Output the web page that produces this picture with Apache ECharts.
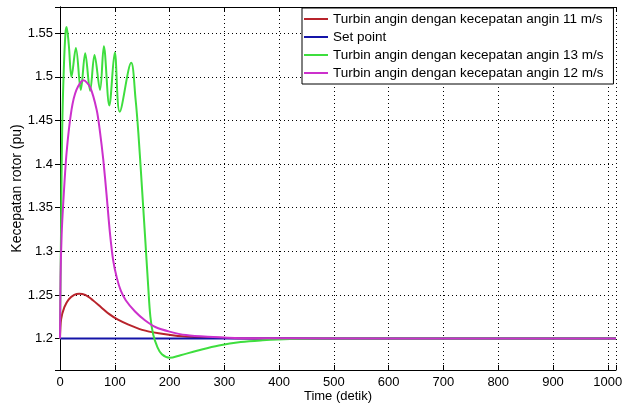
<!DOCTYPE html>
<html lang="en">
<head>
    <meta charset="UTF-8">
    <title>Kecepatan rotor</title>
    <script src="https://cdn.jsdelivr.net/npm/echarts@6/dist/echarts.min.js"></script>
    <style>
        html, body { margin: 0; padding: 0; background: #fff; }
        #main { width: 623px; height: 408px; }
    </style>
</head>
<body>
<div id="main"></div>
<script>
    // data (time in detik, speed in pu)
    var names = [
        'Turbin angin dengan kecepatan angin 11 m/s',
        'Set point',
        'Turbin angin dengan kecepatan angin 13 m/s',
        'Turbin angin dengan kecepatan angin 12 m/s'
    ];
    var colors = ['#b8232b', '#1414a8', '#3ede3e', '#cc30cc'];

    var tRed = [0, 2, 8, 16, 26, 35, 46, 60, 75, 90, 105, 125, 150, 180, 215, 260, 320, 400, 1015];
    var vRed = [1.2, 1.222, 1.236, 1.245, 1.25, 1.2515, 1.25, 1.244, 1.236, 1.228, 1.222, 1.216, 1.21, 1.206, 1.203, 1.2015, 1.2005, 1.2, 1.2];

    var tSet = [0, 1015];
    var vSet = [1.2, 1.2];

    var tGreen = [0, 2, 4, 7, 10, 12, 16, 21, 29, 38, 46, 55, 63, 73, 80, 90, 100, 109, 130, 138, 143, 149, 155, 161, 165, 170,
        178, 186, 200, 220, 250, 290, 330, 370, 420, 480, 1015];
    var vGreen = [1.2, 1.33, 1.44, 1.51, 1.55, 1.557, 1.537, 1.5, 1.533, 1.485, 1.527, 1.484, 1.525, 1.485, 1.535, 1.467, 1.528, 1.46, 1.516, 1.474, 1.436, 1.379, 1.32, 1.26, 1.225, 1.205,
        1.19, 1.182, 1.178, 1.181, 1.186, 1.192, 1.196, 1.198, 1.1995, 1.2, 1.2];

    var tMag = [0, 1, 3, 6, 12, 21, 30, 43, 55, 67, 73, 79, 85, 91, 97, 104, 111, 120, 137, 155, 175, 200, 230, 270, 330, 1015];
    var vMag = [1.2, 1.27, 1.319, 1.356, 1.413, 1.462, 1.485, 1.496, 1.488, 1.462, 1.437, 1.405, 1.365, 1.322, 1.29, 1.269, 1.255, 1.244, 1.231, 1.221, 1.213, 1.208, 1.204, 1.202, 1.2005, 1.2];

    var xTicks = [0, 100, 200, 300, 400, 500, 600, 700, 800, 900, 1000];
    var yTicks = [1.2, 1.25, 1.3, 1.35, 1.4, 1.45, 1.5, 1.55];

    function pairs(t, v) {
        var out = [];
        for (var i = 0; i < t.length; i++) {
            out.push([t[i], v[i]]);
        }
        return out;
    }

    var font = 'Liberation Sans, Arial, sans-serif';
    var lines = [[tRed, vRed], [tSet, vSet], [tGreen, vGreen], [tMag, vMag]];
    var smoothing = [0.3, 0, 0.35, 0.3];
    var series = [];
    for (var i = 0; i < lines.length; i++) {
        series.push({
            name: names[i],
            type: 'line',
            data: pairs(lines[i][0], lines[i][1]),
            symbol: 'none',
            smooth: smoothing[i],
            lineStyle: { color: colors[i], width: 2 },
            itemStyle: { color: colors[i] }
        });
    }

    var tickStyle = { inside: true, length: 5, lineStyle: { color: '#000' } };
    var gridLine = { show: true, lineStyle: { color: '#000', type: [1, 3], width: 1 } };

    var option = {
        backgroundColor: '#fff',
        animation: false,
        textStyle: { fontFamily: font },
        grid: { left: 60, right: 7, top: 7, bottom: 38, containLabel: false, outerBoundsMode: 'none' },
        legend: {
            data: names,
            orient: 'vertical',
            left: 302,
            top: 8,
            icon: 'path://M0,0 L24,0 L24,2 L0,2 Z',
            itemWidth: 24,
            itemHeight: 2,
            itemGap: 0,
            padding: [2, 10, 2, 2],
            backgroundColor: '#fff',
            borderColor: '#000',
            borderWidth: 1,
            borderRadius: 0,
            textStyle: { fontSize: 13.5, color: '#000', fontFamily: font, lineHeight: 18 }
        },
        xAxis: [{
            type: 'value',
            min: 0,
            max: 1015,
            interval: 100,
            name: 'Time (detik)',
            nameLocation: 'middle',
            nameGap: 20,
            nameMoveOverlap: false,
            nameTextStyle: { fontSize: 13, color: '#000' },
            axisLine: { lineStyle: { color: '#000' } },
            axisTick: tickStyle,
            axisLabel: {
                fontSize: 13, color: '#000', margin: 6,
                formatter: function (v) { return xTicks.indexOf(v) >= 0 ? String(v) : ''; }
            },
            splitLine: gridLine
        }, {
            type: 'value',
            position: 'top',
            min: 0,
            max: 1015,
            interval: 100,
            axisLine: { show: true, lineStyle: { color: '#000' } },
            axisTick: tickStyle,
            axisLabel: { show: false },
            splitLine: { show: false }
        }],
        yAxis: [{
            type: 'value',
            min: 1.164,
            max: 1.58,
            splitNumber: 8,
            name: 'Kecepatan rotor (pu)',
            nameLocation: 'middle',
            nameGap: 36,
            nameMoveOverlap: false,
            nameTextStyle: { fontSize: 14, color: '#000' },
            axisLine: { show: true, lineStyle: { color: '#000' } },
            axisTick: tickStyle,
            axisLabel: {
                fontSize: 13, color: '#000', margin: 7,
                formatter: function (v) {
                    for (var k = 0; k < yTicks.length; k++) {
                        if (Math.abs(yTicks[k] - v) < 1e-6) return String(yTicks[k]);
                    }
                    return '';
                }
            },
            splitLine: gridLine
        }, {
            type: 'value',
            position: 'right',
            min: 1.164,
            max: 1.58,
            splitNumber: 8,
            axisLine: { show: true, lineStyle: { color: '#000' } },
            axisTick: tickStyle,
            axisLabel: { show: false },
            splitLine: { show: false }
        }],
        series: series
    };

    echarts.init(document.getElementById('main')).setOption(option);
</script>
</body>
</html>
